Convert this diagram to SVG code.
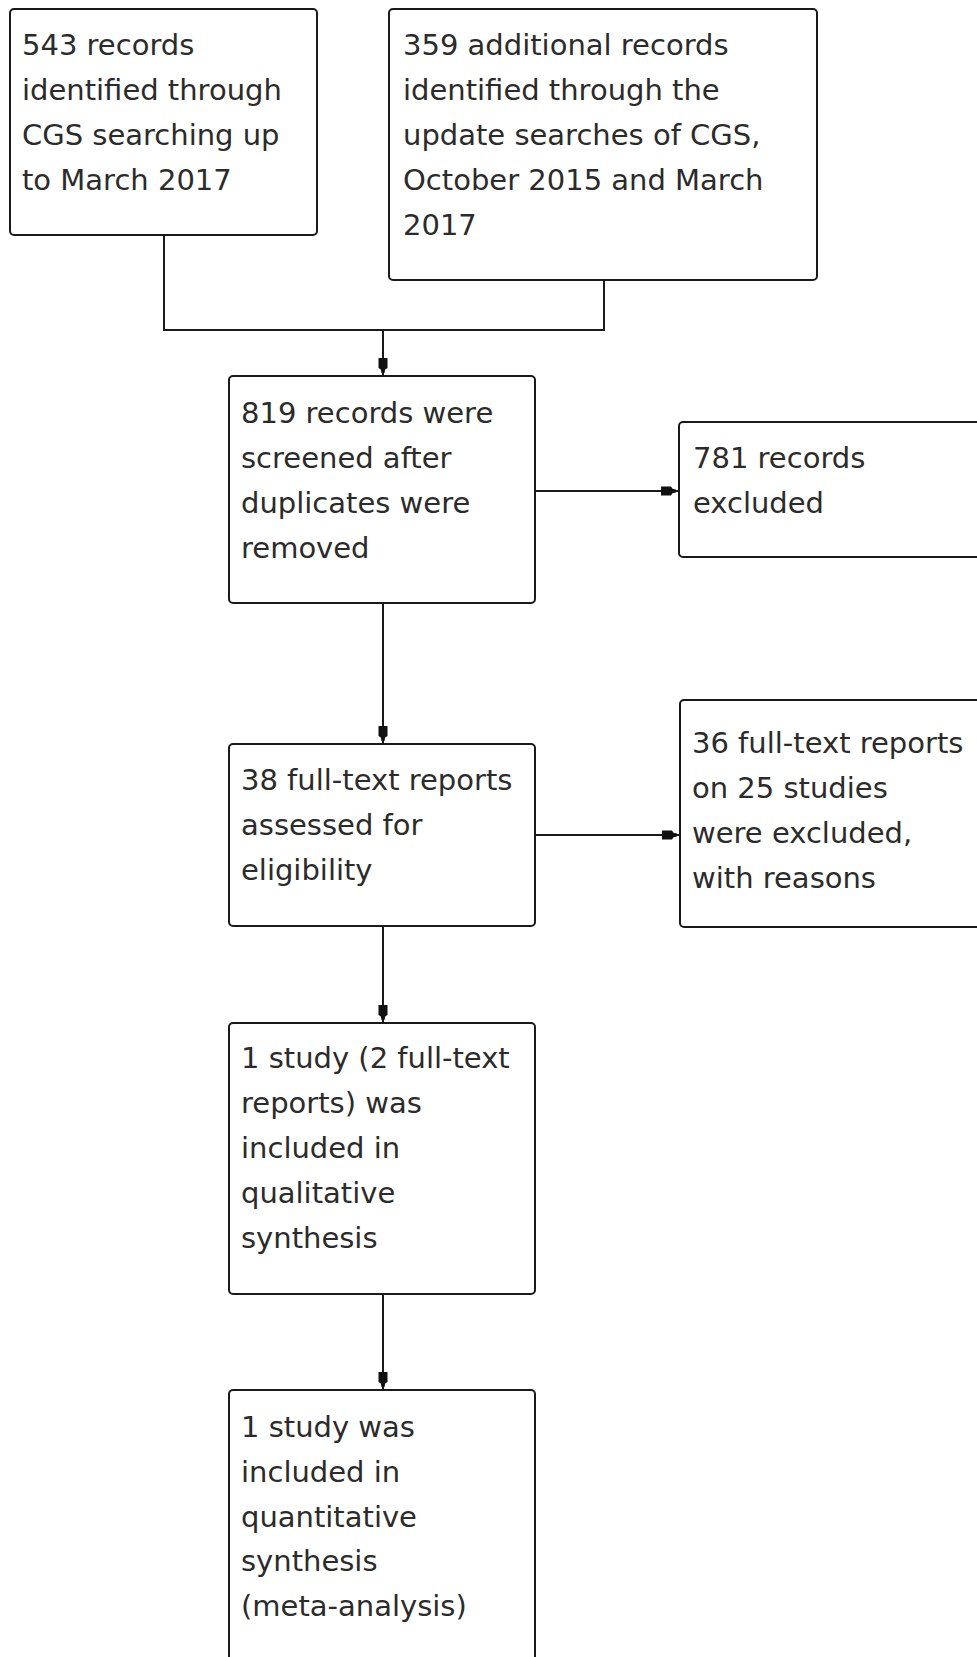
<svg xmlns="http://www.w3.org/2000/svg" width="977" height="1657" viewBox="0 0 977 1657">
<defs>
<style>
.box{fill:#fff;stroke:#1a1a1a;stroke-width:2}
.t{font-family:"DejaVu Sans",sans-serif;font-size:29px;fill:#2b2b2b}
.c{fill:none;stroke:#1a1a1a;stroke-width:2}
</style>
<marker id="ah" markerUnits="userSpaceOnUse" viewBox="0 0 18 12" markerWidth="18" markerHeight="12" refX="18" refY="6" orient="auto">
<path d="M0,1.5 L10,1.5 L11.5,3.8 L15,4.5 L15,7.5 L11.5,8.2 L10,10.5 L0,10.5 Z" fill="#111"/>
</marker>
</defs>
<rect width="977" height="1657" fill="#fff"/>
<g id="connectors">
<polyline class="c" points="164,235 164,330 604,330 604,280"/>
<line class="c" x1="383" y1="330" x2="383" y2="376" marker-end="url(#ah)"/>
<line class="c" x1="383" y1="603" x2="383" y2="744" marker-end="url(#ah)"/>
<line class="c" x1="535" y1="491" x2="679" y2="491" marker-end="url(#ah)"/>
<line class="c" x1="535" y1="835" x2="680" y2="835" marker-end="url(#ah)"/>
<line class="c" x1="383" y1="926" x2="383" y2="1023" marker-end="url(#ah)"/>
<line class="c" x1="383" y1="1294" x2="383" y2="1390" marker-end="url(#ah)"/>
</g>
<g id="n1">
<rect class="box" x="10" y="9" width="307" height="226" rx="4"/>
<text class="t"><tspan x="22" y="55">543 records</tspan><tspan x="22" y="100">identified through</tspan><tspan x="22" y="145">CGS searching up</tspan><tspan x="22" y="190">to March 2017</tspan></text>
</g>
<g id="n2">
<rect class="box" x="389" y="9" width="428" height="271" rx="4"/>
<text class="t"><tspan x="403" y="55">359 additional records</tspan><tspan x="403" y="100">identified through the</tspan><tspan x="403" y="145">update searches of CGS,</tspan><tspan x="403" y="190">October 2015 and March</tspan><tspan x="403" y="235">2017</tspan></text>
</g>
<g id="n3">
<rect class="box" x="229" y="376" width="306" height="227" rx="4"/>
<text class="t"><tspan x="241" y="423">819 records were</tspan><tspan x="241" y="468">screened after</tspan><tspan x="241" y="513">duplicates were</tspan><tspan x="241" y="558">removed</tspan></text>
</g>
<g id="n4">
<rect class="box" x="679" y="422" width="330" height="135" rx="4"/>
<text class="t"><tspan x="693" y="468">781 records</tspan><tspan x="693" y="513">excluded</tspan></text>
</g>
<g id="n5">
<rect class="box" x="229" y="744" width="306" height="182" rx="4"/>
<text class="t"><tspan x="241" y="790">38 full-text reports</tspan><tspan x="241" y="835">assessed for</tspan><tspan x="241" y="880">eligibility</tspan></text>
</g>
<g id="n6">
<rect class="box" x="680" y="700" width="330" height="227" rx="4"/>
<text class="t"><tspan x="692" y="753">36 full-text reports</tspan><tspan x="692" y="798">on 25 studies</tspan><tspan x="692" y="843">were excluded,</tspan><tspan x="692" y="888">with reasons</tspan></text>
</g>
<g id="n7">
<rect class="box" x="229" y="1023" width="306" height="271" rx="4"/>
<text class="t"><tspan x="241" y="1068">1 study (2 full-text</tspan><tspan x="241" y="1113">reports) was</tspan><tspan x="241" y="1158">included in</tspan><tspan x="241" y="1203">qualitative</tspan><tspan x="241" y="1248">synthesis</tspan></text>
</g>
<g id="n8">
<rect class="box" x="229" y="1390" width="306" height="300" rx="4"/>
<text class="t"><tspan x="241" y="1437">1 study was</tspan><tspan x="241" y="1482">included in</tspan><tspan x="241" y="1527">quantitative</tspan><tspan x="241" y="1571">synthesis</tspan><tspan x="241" y="1616">(meta-analysis)</tspan></text>
</g>
</svg>
